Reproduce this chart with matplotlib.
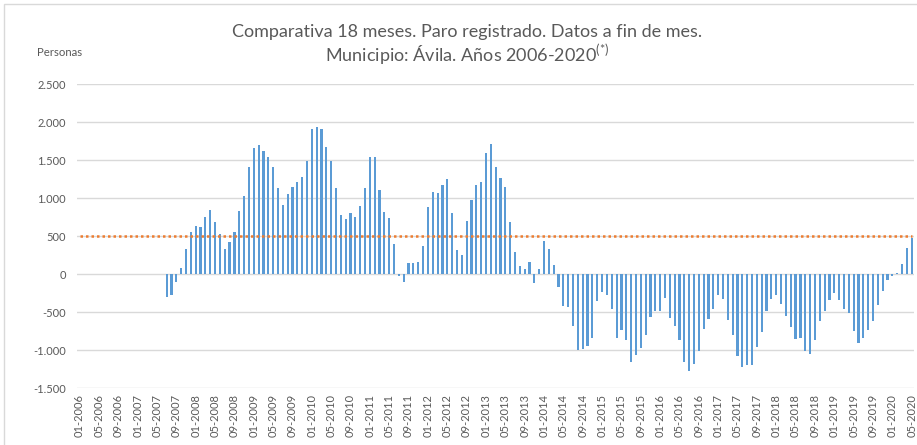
import numpy as np
import pandas as pd
import matplotlib
matplotlib.use('Agg')
import matplotlib.pyplot as plt

# Meses del eje (01-2006 a 05-2020)
meses = pd.date_range('2006-01-01', '2020-05-01', freq='MS').strftime('%m-%Y').tolist()

# Primer mes con comparativa de 18 meses
primer_mes = '07-2007'

# Variacion del paro registrado respecto a 18 meses antes (personas)
var_2007 = [-300, -276, -101, 88, 338, 553]
var_2008 = [632, 618, 754, 851, 689, 526, 329, 421, 553, 829, 1031, 1412]
var_2009 = [1667, 1702, 1618, 1540, 1408, 1140, 917, 1061, 1149, 1215, 1276, 1491]
var_2010 = [1908, 1934, 1912, 1675, 1491, 1132, 776, 732, 807, 750, 895, 1132]
var_2011 = [1548, 1548, 1110, 820, 741, 404, -22, -96, 145, 145, 162, 377]
var_2012 = [882, 1088, 1075, 1175, 1254, 811, 320, 250, 702, 978, 1171, 1211]
var_2013 = [1597, 1719, 1408, 1268, 1149, 684, 289, 114, 70, 162, -118, 75]
var_2014 = [439, 329, 127, -171, -417, -430, -675, -1000, -978, -943, -833, -346]
var_2015 = [-237, -272, -461, -842, -728, -868, -1158, -1057, -974, -794, -557, -478]
var_2016 = [-478, -311, -579, -684, -864, -1149, -1272, -1184, -1004, -715, -592, -452]
var_2017 = [-276, -329, -601, -798, -1079, -1224, -1197, -1189, -952, -754, -478, -329]
var_2018 = [-276, -395, -544, -697, -846, -838, -1009, -1044, -868, -610, -487, -342]
var_2019 = [-246, -333, -456, -504, -750, -899, -842, -728, -618, -408, -219, -79]
var_2020 = [-18, 13, 132, 351, 478]

variacion = (var_2007 + var_2008 + var_2009 + var_2010 + var_2011 + var_2012 + var_2013
             + var_2014 + var_2015 + var_2016 + var_2017 + var_2018 + var_2019 + var_2020)

referencia = 500
y_ticks = [-1500, -1000, -500, 0, 500, 1000, 1500, 2000, 2500]

plt.rcParams['font.family'] = ['Lato', 'DejaVu Sans']
plt.rcParams['mathtext.fontset'] = 'custom'
plt.rcParams['mathtext.rm'] = 'Lato'
gris = '#595959'

fig = plt.figure(figsize=(9.17, 4.45), dpi=100)
ax = fig.add_axes([77.2 / 917, 1 - 388.3 / 445, (914.1 - 77.2) / 917, (388.3 - 84.3) / 445])

x = np.arange(len(meses))
inicio = meses.index(primer_mes)
ax.bar(x[inicio:], variacion, width=0.45, color='#5B9BD5', zorder=3)
ax.plot(x, [referencia] * len(x), color='#ED7D31', linestyle=(0, (1, 1.2)), lw=1.8, zorder=4)

ax.set_xlim(-0.5, len(meses) - 0.5)
ax.set_ylim(y_ticks[0], y_ticks[-1])
ax.set_yticks(y_ticks)
ax.set_yticklabels([f'{v:,.0f}'.replace(',', '.') for v in y_ticks])
ax.set_xticks(x[::4])
ax.set_xticklabels(meses[::4], rotation=90)
ax.tick_params(axis='both', length=0, labelsize=8, colors=gris)
ax.tick_params(axis='y', pad=8)
ax.tick_params(axis='x', pad=4)
ax.grid(axis='y', color='#d9d9d9', lw=1, zorder=0)
for s in ax.spines.values():
    s.set_visible(False)

fig.text(467 / 917, 1 - 32 / 445, 'Comparativa 18 meses. Paro registrado. Datos a fin de mes.',
         ha='center', va='center', fontsize=13, color=gris)
fig.text(467 / 917, 1 - 55 / 445, r'Municipio: Ávila. Años 2006-2020$^{\mathrm{(*)}}$',
         ha='center', va='center', fontsize=13, color=gris)
fig.text(37 / 917, 1 - 52 / 445, 'Personas', ha='left', va='center', fontsize=8.2, color=gris)

fig.add_artist(plt.Rectangle((4 / 917, -0.5), 2, 1.5 - 4 / 445, fill=False,
                             ec='#d9d9d9', lw=1, transform=fig.transFigure))

fig.savefig('out.png', dpi=100)
